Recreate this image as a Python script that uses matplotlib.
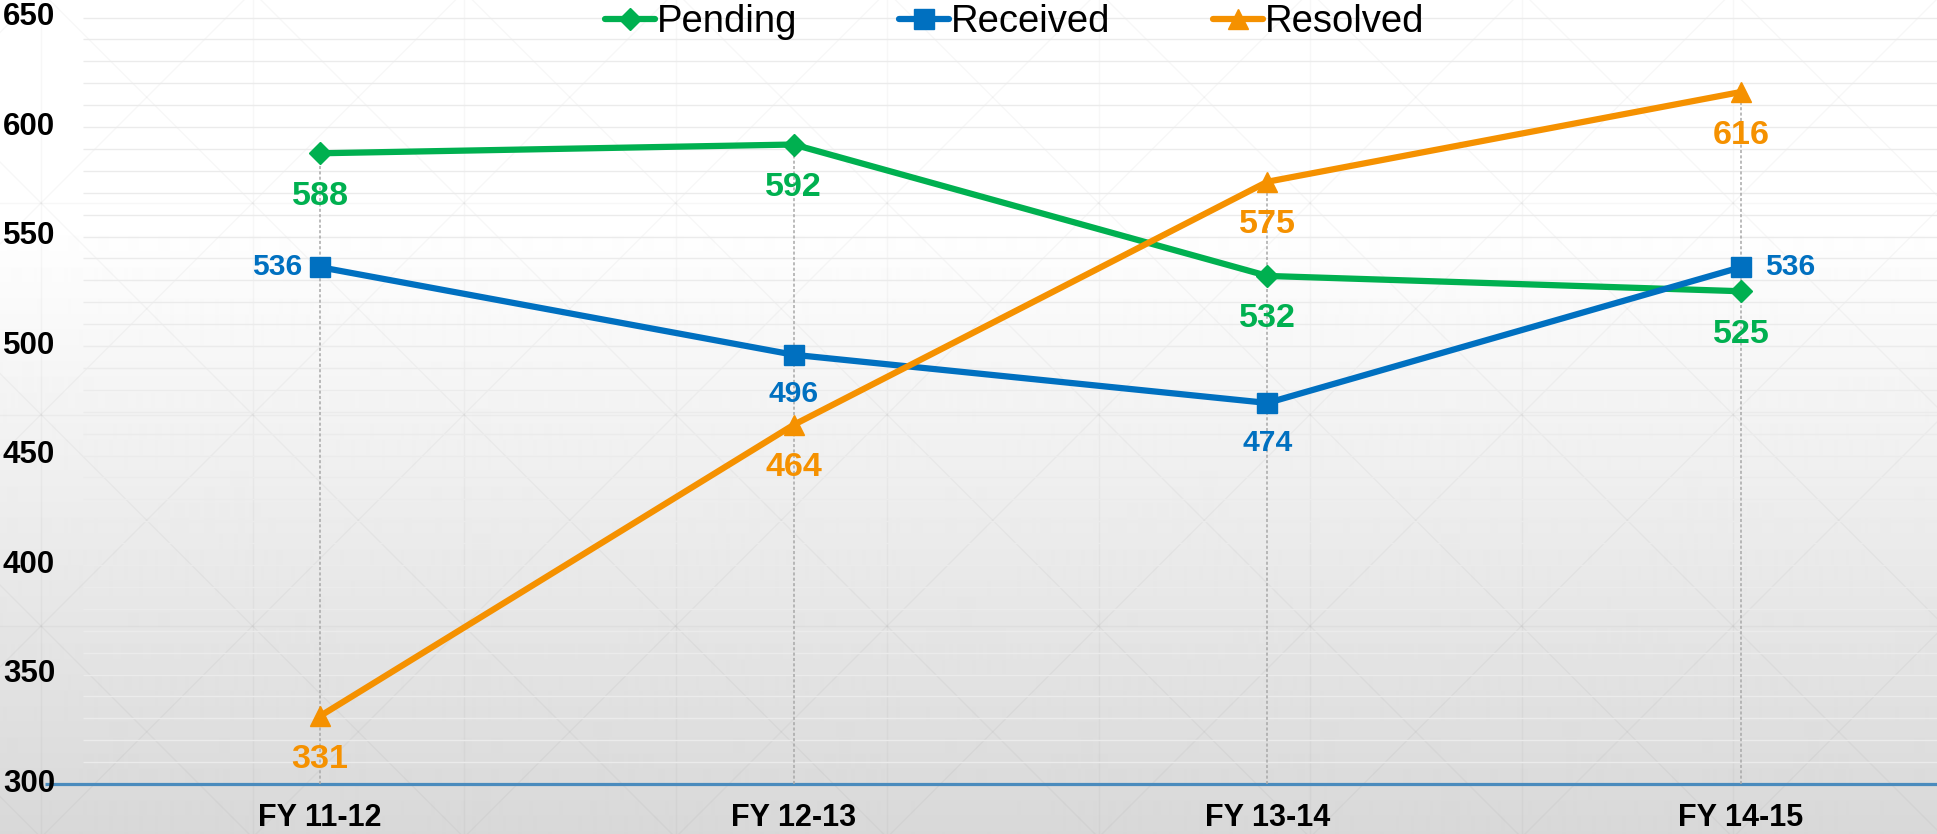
"""
Grievance counts by financial year: Pending / Received / Resolved.
Line chart on a light slide-style background (gradient + faint lattice).
"""

import numpy as np
import matplotlib
matplotlib.use('Agg')
import matplotlib.pyplot as plt

# ─────────────────────────────────────────────────────────────────────────────
# Data
# ─────────────────────────────────────────────────────────────────────────────
categories = ['FY 11-12', 'FY 12-13', 'FY 13-14', 'FY 14-15']
pending    = [588, 592, 532, 525]
received   = [536, 496, 474, 536]
resolved   = [331, 464, 575, 616]
y_ticks    = [300, 350, 400, 450, 500, 550, 600, 650]

# where the data labels sit relative to each point
pending_pos  = ['below', 'below', 'below', 'below']
received_pos = ['left', 'below', 'below', 'right']
resolved_pos = ['below', 'below', 'below', 'below']

# ─────────────────────────────────────────────────────────────────────────────
# Style
# ─────────────────────────────────────────────────────────────────────────────
GREEN  = '#00b050'
BLUE   = '#0070c0'
ORANGE = '#f59100'
AXIS   = '#4a8bbd'
GRID   = '#ebebeb'

W, H, DPI = 1937, 834, 100
plt.rcParams['font.family'] = ['Liberation Sans', 'DejaVu Sans']

fig = plt.figure(figsize=(W / DPI, H / DPI), dpi=DPI)

# ─────────────────────────────────────────────────────────────────────────────
# Background: vertical gradient + faint square/diagonal lattice
# ─────────────────────────────────────────────────────────────────────────────
bg = fig.add_axes([0, 0, 1, 1], zorder=0)
bg.set_xlim(0, W)
bg.set_ylim(H, 0)
bg.axis('off')
rows = np.arange(H)
shade = np.clip(255 - 39 * (rows - 220) / (H - 220), 216, 255) / 255.0
bg.imshow(np.repeat(shade[:, None], 2, axis=1), cmap='gray', vmin=0, vmax=1,
          extent=[0, W, H, 0], aspect='auto', interpolation='bilinear')

STEP, X0, Y0 = 211.5, 41.0, 203.0
tex = dict(color='k', alpha=0.03, lw=1.0)
for k in range(-1, 10):
    bg.axvline(X0 + k * STEP, **tex)
for k in range(-1, 4):
    bg.axhline(Y0 + k * STEP, **tex)
xs = np.array([0, W])
for k in range(-15, 15):
    c1 = (Y0 - X0) + k * STEP
    c2 = (Y0 + X0) + k * STEP
    bg.plot(xs, xs + c1, **tex)
    bg.plot(xs, c2 - xs, **tex)

# ─────────────────────────────────────────────────────────────────────────────
# Main axes
# ─────────────────────────────────────────────────────────────────────────────
AX_BOTTOM = 784                      # pixel row of y = 300
ax = fig.add_axes([0, (H - AX_BOTTOM) / H, 1, AX_BOTTOM / H], zorder=1)
ax.patch.set_alpha(0)
px_per_unit = (AX_BOTTOM - 17.5) / 350
px_per_cat = 473.7
ax.set_ylim(300, 300 + AX_BOTTOM / px_per_unit)
ax.set_xlim(-320 / px_per_cat, (W - 320) / px_per_cat)
for s in ax.spines.values():
    s.set_visible(False)

x = np.arange(len(categories))

# minor horizontal grid every 10
ax.hlines(np.arange(310, 651, 10), -0.5, 3.5, color=GRID, lw=1.0, zorder=1)
# category axis line
ax.hlines(300, -0.58, 3.6, color=AXIS, lw=2.3, zorder=2, clip_on=False)
# drop lines from the highest point of each category
tops = np.max([pending, received, resolved], axis=0)
ax.vlines(x, 300, tops, colors='#a8a8a8', lw=1.1,
          linestyles=(0, (2, 1.5)), zorder=2)

ax.set_yticks([])
for t in y_ticks:
    ax.text(0.0015, t, str(t), transform=ax.get_yaxis_transform(),
            ha='left', va='center', fontsize=22.5, fontweight='bold',
            color='black', zorder=5)

ax.set_xticks(x, categories, fontsize=22, fontweight='bold')
ax.tick_params(axis='x', length=0, pad=14)

series = [
    ('Pending',  pending,  GREEN,  'D', 10.7, pending_pos,  24.6),
    ('Received', received, BLUE,   's', 15,   received_pos, 21.6),
    ('Resolved', resolved, ORANGE, '^', 15,   resolved_pos, 24.6),
]

for name, vals, col, mk, ms, pos, fs in series:
    ax.plot(x, vals, color=col, lw=4.5, marker=mk, ms=ms, label=name,
            zorder=3, solid_capstyle='round')
    for xi, v, p in zip(x, vals, pos):
        if p == 'left':
            off, ha = (-13, 0), 'right'
        elif p == 'right':
            off, ha = (17, 0), 'left'
        else:
            off, ha = (0, -31 if fs > 22 else -28.5), 'center'
        ax.annotate(str(v), (xi, v), xytext=off, textcoords='offset points',
                    ha=ha, va='center', fontsize=fs, fontweight='bold',
                    color=col, zorder=4)

ax.legend(loc='center left', bbox_to_anchor=(605 / W, 1 - 22 / AX_BOTTOM),
          ncol=3, frameon=False, prop={'size': 27.5}, borderpad=0,
          borderaxespad=0, handlelength=1.31, handletextpad=0.05,
          columnspacing=2.67, markerscale=1.0)

fig.savefig('out.png', dpi=DPI)
